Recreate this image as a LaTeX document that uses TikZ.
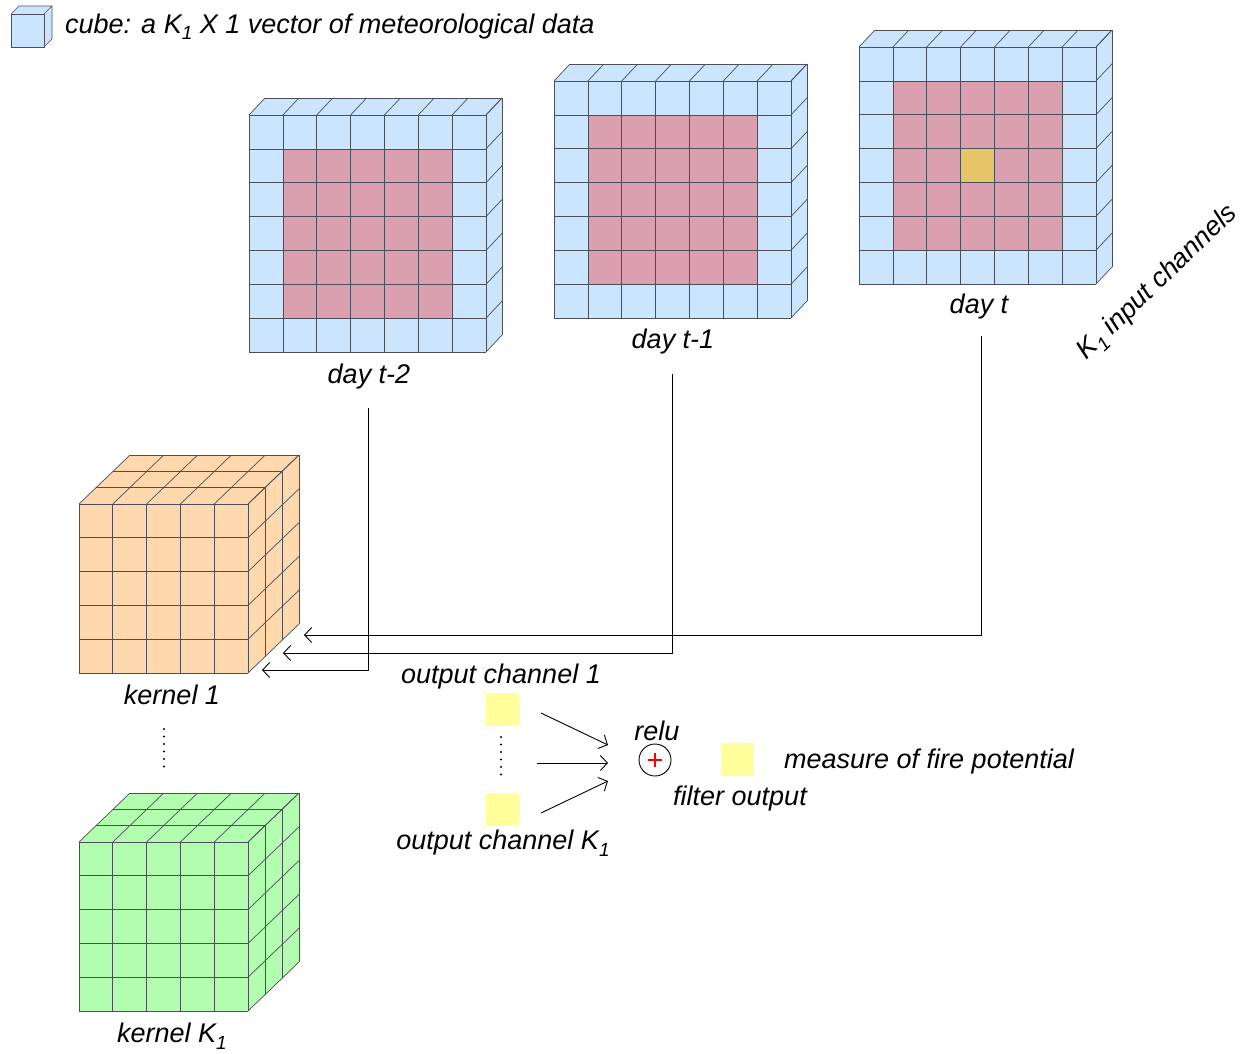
\documentclass[tikz,border=0pt]{standalone}
\usepackage{fontspec}
\setmainfont{Liberation Sans}
\usetikzlibrary{arrows.meta}
\definecolor{cblue}{RGB}{204,229,255}
\definecolor{cpink}{RGB}{218,160,176}
\definecolor{cgold}{RGB}{230,197,104}
\definecolor{corange}{RGB}{255,216,174}
\definecolor{cgreen}{RGB}{178,253,176}
\definecolor{cyel}{RGB}{255,255,155}
\definecolor{cline}{RGB}{75,80,88}
\newcommand{\lsub}[1]{\raisebox{-0.45ex}{\fontsize{19}{19}\selectfont #1}}
\newcommand{\dayslab}[1]{%
  \fill[cblue] (0,0) rectangle (237,237);
  \fill[cpink] (33.857,33.857) rectangle (203.14,203.14);
  #1
  \fill[cblue] (0,0) -- (16,-17) -- (253,-17) -- (237,0) -- cycle;
  \fill[cblue] (237,0) -- (253,-17) -- (253,220) -- (237,237) -- cycle;
  \foreach \i in {0,...,7} {
    \draw[gridl] ({\i*33.857},0) -- ({\i*33.857},237);
    \draw[gridl] (0,{\i*33.857}) -- (237,{\i*33.857});
    \draw[gridl] ({\i*33.857},0) -- ++(16,-17);
    \draw[gridl] (237,{\i*33.857}) -- ++(16,-17);
  }
  \draw[gridl] (16,-17) -- (253,-17) -- (253,220);
}
\newcommand{\kernelcube}[1]{%
  \fill[#1] (0,0) rectangle (169,169);
  \fill[#1] (0,0) -- (51,-49) -- (220,-49) -- (169,0) -- cycle;
  \fill[#1] (169,0) -- (220,-49) -- (220,120) -- (169,169) -- cycle;
  \foreach \i in {0,...,5} {
    \draw[gridl] ({\i*33.8},0) -- ({\i*33.8},169);
    \draw[gridl] (0,{\i*33.8}) -- (169,{\i*33.8});
    \draw[gridl] ({\i*33.8},0) -- ++(51,-49);
    \draw[gridl] (169,{\i*33.8}) -- ++(51,-49);
  }
  \foreach \k in {1,2,3} {
    \draw[gridl] ({\k*17},{-\k*16.33}) -- ++(169,0);
    \draw[gridl] ({169+\k*17},{-\k*16.33}) -- ++(0,169);
  }
}
\begin{document}
\begin{tikzpicture}[x=1pt,y=-1pt,
  gridl/.style={draw=cline,line width=0.7pt},
  lbl/.style={font=\fontsize{27}{30}\selectfont\itshape,inner sep=0pt},
  conn/.style={draw=black,line width=0.9pt,-{Straight Barb[length=7pt,width=15pt]}},
  sq/.style={fill=cyel,minimum width=33pt,minimum height=33pt,inner sep=0pt},
  dotline/.style={line width=2.4pt,line cap=round,dash pattern=on 0pt off 7.5pt}]
\useasboundingbox (0,0) rectangle (1248,1053);
\fill[white] (0,0) rectangle (1248,1053);

% legend
\fill[cblue] (11,14) rectangle (44,47);
\fill[cblue] (11,14) -- (19,6) -- (52,6) -- (44,14) -- cycle;
\fill[cblue] (44,14) -- (52,6) -- (52,39) -- (44,47) -- cycle;
\draw[gridl] (11,14) rectangle (44,47);
\draw[gridl] (11,14) -- (19,6) -- (52,6) -- (44,14);
\draw[gridl] (52,6) -- (52,39) -- (44,47);
\node[lbl,anchor=base west] (legend) at (65,33) {cube: a K\lsub{1} X 1 vector of meteorological data};

% day slabs
\begin{scope}[shift={(249,115)}]\dayslab{}\end{scope}
\begin{scope}[shift={(554,81)}]\dayslab{}\end{scope}
\begin{scope}[shift={(859,47)}]\dayslab{\fill[cgold] (101.57,101.57) rectangle (135.43,135.43);}\end{scope}

\node[lbl] (d2) at (369,377) {day t-2};
\node[lbl] (d1) at (673,342) {day t-1};
\node[lbl] (d0) at (979,307) {day t};
\node[lbl,rotate=44] (inch) at (1158,283) {K\lsub{1} input channels};

% kernels
\begin{scope}[shift={(79,504)}]\kernelcube{corange}\end{scope}
\begin{scope}[shift={(79,842)}]\kernelcube{cgreen}\end{scope}
\node[lbl] (k1) at (172,695) {kernel 1};
\node[lbl] (kK) at (172,1036) {kernel K\lsub{1}};
\draw[dotline] (164,729) -- (164,768);

% connectors from days to kernel
\coordinate (s2) at (368,408);
\coordinate (s1) at (672,374);
\coordinate (s0) at (981,336);
\coordinate (e0) at (304,635);
\coordinate (e1) at (283,653);
\coordinate (e2) at (262,670);
\draw[conn] (s0) |- (e0);
\draw[conn] (s1) |- (e1);
\draw[conn] (s2) |- (e2);

% output channels
\node[lbl] (oc1) at (501,677) {output channel 1};
\node[sq] (y1) at (502.5,709) {};
\node[sq] (y2) at (502.5,809.5) {};
\draw[dotline] (501,737) -- (501,778);
\node[lbl] (ocK) at (503,843) {output channel K\lsub{1}};

\node[circle,draw=black,line width=0.9pt,minimum size=32pt,inner sep=0pt] (relu) at (655,760) {};
\draw[red,line width=1.4pt] (648,760) -- (662,760) (655,753) -- (655,767);
\node[lbl] (relut) at (657,731) {relu};

\coordinate (a1s) at (541,713);
\coordinate (a2s) at (537,763);
\coordinate (a3s) at (541,813);
\coordinate (a1e) at (608,745);
\coordinate (a2e) at (608,763);
\coordinate (a3e) at (608,781);
\draw[conn] (a1s) -- (a1e);
\draw[conn] (a2s) -- (a2e);
\draw[conn] (a3s) -- (a3e);

\node[sq] (fo) at (737.5,759.5) {};
\node[lbl] (fot) at (740,799) {filter output};
\node[lbl,anchor=west] (fire) at (784,762) {measure of fire potential};
\end{tikzpicture}
\end{document}
